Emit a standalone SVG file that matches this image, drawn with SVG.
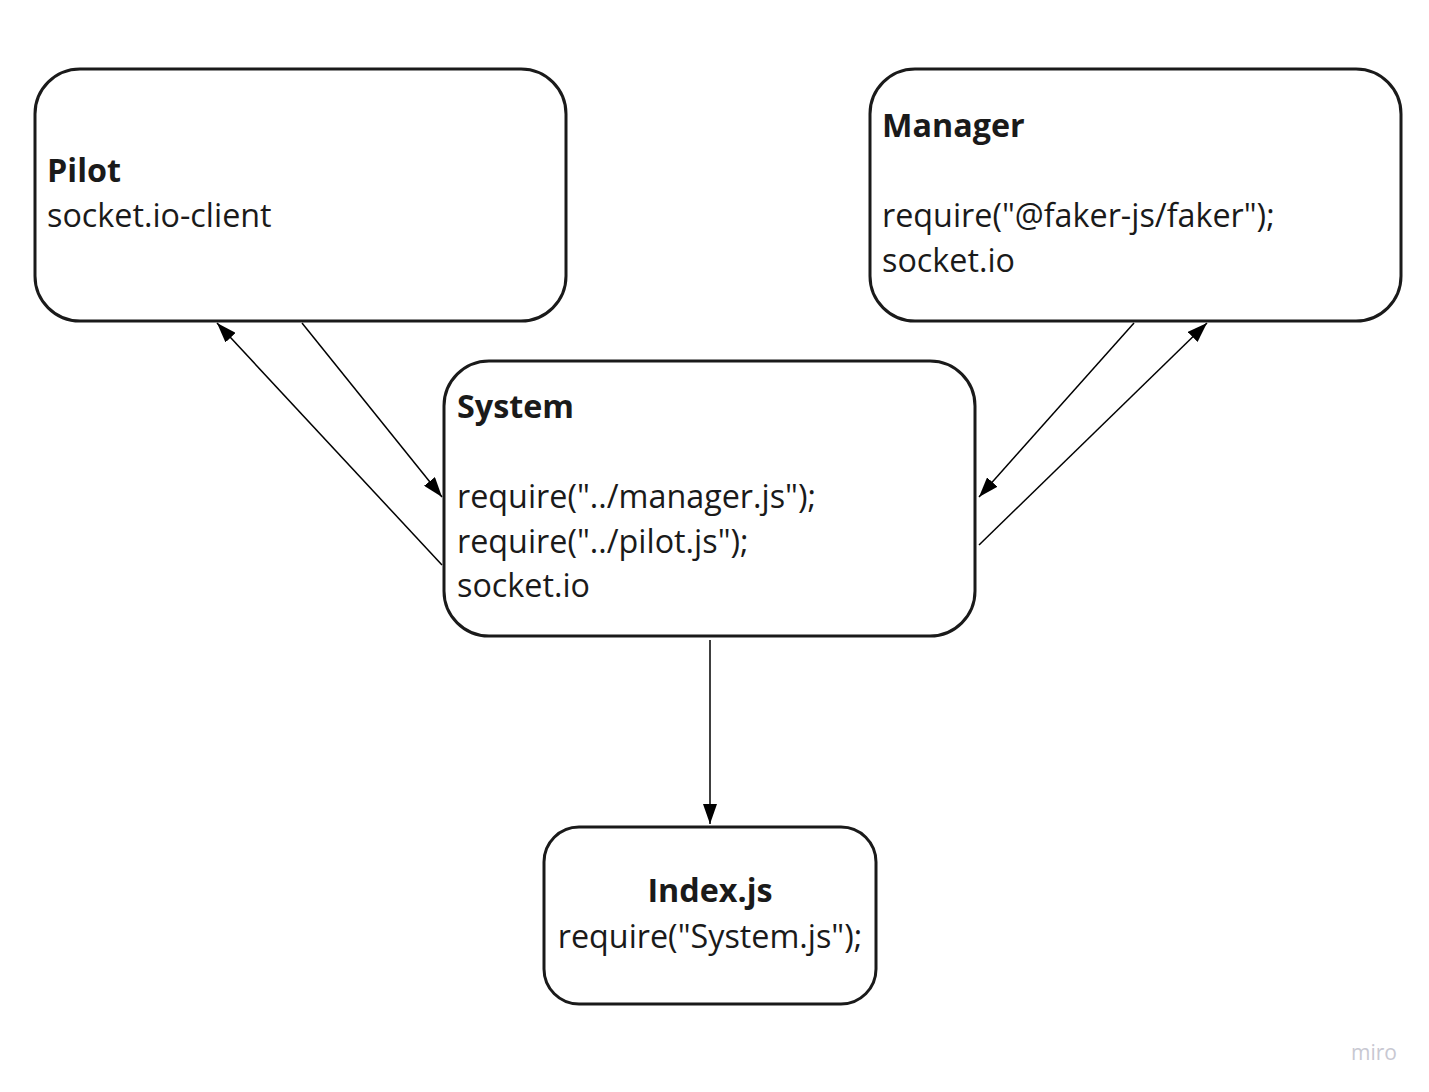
<svg xmlns="http://www.w3.org/2000/svg" width="1429" height="1092" viewBox="0 0 1429 1092">
<style>
.box{fill:#fff;stroke:#1a1a1a;stroke-width:3}
.t{font-family:"Open Sans","Noto Sans",sans-serif;font-size:32.3px;fill:#1a1a1a}
.b{font-weight:bold}
.c{fill:none;stroke:#000;stroke-width:1.5}
</style>
<defs>
<marker id="ah" viewBox="0 0 20 14" refX="20" refY="7" markerWidth="20" markerHeight="14" markerUnits="userSpaceOnUse" orient="auto">
<path d="M0,0 L20,7 L0,14 Z" fill="#000"/>
</marker>
</defs>
<rect width="1429" height="1092" fill="#fff"/>
<g id="connectors">
<line class="c" x1="302" y1="323" x2="442" y2="497" marker-end="url(#ah)"/>
<line class="c" x1="442" y1="565" x2="217" y2="323" marker-end="url(#ah)"/>
<line class="c" x1="1134" y1="323" x2="979" y2="497" marker-end="url(#ah)"/>
<line class="c" x1="979" y1="545" x2="1207" y2="323" marker-end="url(#ah)"/>
<line class="c" x1="710" y1="640" x2="710" y2="824" marker-end="url(#ah)"/>
</g>
<g id="pilot">
<rect class="box" x="35" y="69" width="531" height="252" rx="45"/>
<text class="t b" x="47" y="182">Pilot</text>
<text class="t" x="47" y="227">socket.io-client</text>
</g>
<g id="manager">
<rect class="box" x="870" y="69" width="531" height="252" rx="45"/>
<text class="t b" x="882" y="137">Manager</text>
<text class="t" x="882" y="227">require("@faker-js/faker");</text>
<text class="t" x="882" y="272">socket.io</text>
</g>
<g id="system">
<rect class="box" x="444" y="361" width="531" height="275" rx="45"/>
<text class="t b" x="457" y="418">System</text>
<text class="t" x="457" y="508">require("../manager.js");</text>
<text class="t" x="457" y="553">require("../pilot.js");</text>
<text class="t" x="457" y="597">socket.io</text>
</g>
<g id="index">
<rect class="box" x="544" y="827" width="332" height="177" rx="35"/>
<text class="t b" x="710" y="902" text-anchor="middle">Index.js</text>
<text class="t" x="710" y="948" text-anchor="middle">require("System.js");</text>
</g>
<text x="1374" y="1060" text-anchor="middle" font-family="'Open Sans',sans-serif" font-size="21" fill="#c8c8d2">miro</text>
</svg>
